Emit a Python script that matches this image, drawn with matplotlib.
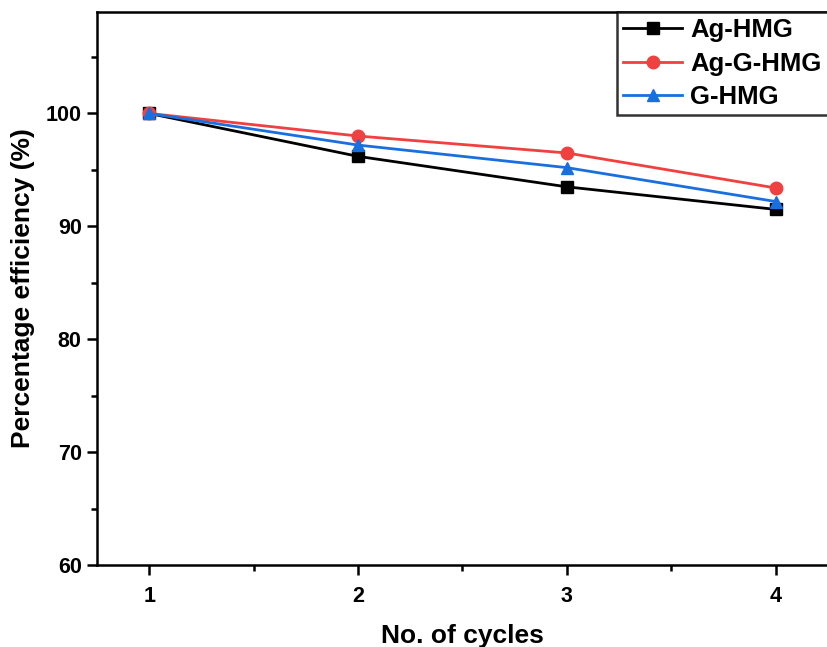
import matplotlib
matplotlib.use('Agg')
import matplotlib.pyplot as plt
from matplotlib.ticker import MultipleLocator

plt.rcParams['font.family'] = ['Liberation Sans', 'DejaVu Sans']
plt.rcParams['font.weight'] = 'bold'

cycles = [1, 2, 3, 4]
agHmg = [100.0, 96.2, 93.5, 91.5]
agGHmg = [100.0, 98.0, 96.5, 93.4]
gHmg = [100.0, 97.2, 95.2, 92.2]

fig = plt.figure(figsize=(8.27, 6.47), dpi=100)
ax = fig.add_axes([0.1173, 0.1267, 0.8837, 0.855])

ax.plot(cycles, agHmg, color='black', marker='s', markersize=8, lw=2, label='Ag-HMG')
ax.plot(cycles, agGHmg, color='#F04040', marker='o', markersize=9, lw=2, label='Ag-G-HMG')
ax.plot(cycles, gHmg, color='#1A6FDF', marker='^', markersize=9, lw=2, label='G-HMG')

ax.set_xlim(0.75, 4.25)
ax.set_ylim(60, 109)
ax.set_xticks(cycles)
ax.xaxis.set_minor_locator(MultipleLocator(0.5))
ax.set_yticks([60, 70, 80, 90, 100])
ax.yaxis.set_minor_locator(MultipleLocator(5))

for s in ax.spines.values():
    s.set_linewidth(1.8)
ax.tick_params(which='major', direction='out', length=7, width=1.8, labelsize=15.5)
ax.tick_params(which='minor', direction='out', length=4, width=1.8)
ax.tick_params(axis='x', which='major', pad=8)
ax.tick_params(axis='y', which='major', pad=4)
for lbl in ax.get_xticklabels() + ax.get_yticklabels():
    lbl.set_fontweight('bold')

ax.set_xlabel('No. of cycles', fontsize=19, fontweight='bold', labelpad=12)
ax.set_ylabel('Percentage efficiency (%)', fontsize=19, fontweight='bold', labelpad=8)

leg = ax.legend(loc='upper right', fontsize=18.5, frameon=True, fancybox=False,
                edgecolor='black', borderaxespad=0, handlelength=2.3,
                borderpad=0.25, labelspacing=0.36, handletextpad=0.3)
leg.get_frame().set_linewidth(1.8)
for t in leg.get_texts():
    t.set_fontweight('bold')

fig.savefig('out.png', dpi=100)
